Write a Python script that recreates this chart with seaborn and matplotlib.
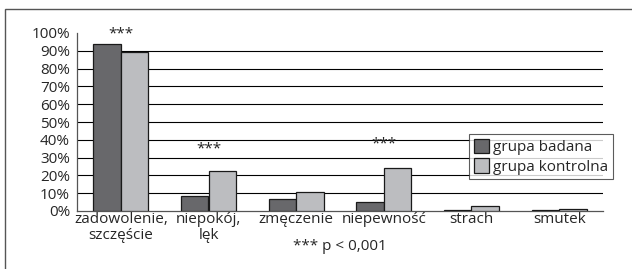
import pandas as pd
import numpy as np
import matplotlib
matplotlib.use("Agg")
import matplotlib.pyplot as plt
import seaborn as sns
from matplotlib.patches import Rectangle

sns.set_style("white")
plt.rcParams["font.family"] = ["Open Sans", "DejaVu Sans"]

categories = ["zadowolenie,\nszczęście", "niepokój,\nlęk", "zmęczenie",
              "niepewność", "strach", "smutek"]
badana     = [94.0, 8.5, 7.0, 5.0, 0.5, 0.5]
kontrolna  = [89.5, 22.5, 10.5, 24.0, 3.0, 1.0]
groups     = ["grupa badana", "grupa kontrolna"]
colors     = ["#68686b", "#bcbdc0"]
stars      = [("***", 0, 95.0), ("***", 1, 30.5), ("***", 3, 33.5)]

df = pd.DataFrame({
    "cat": categories * 2,
    "val": badana + kontrolna,
    "grp": [groups[0]] * 6 + [groups[1]] * 6,
})

FS = 11

fig = plt.figure(figsize=(6.32, 2.69), dpi=100)
ax = fig.add_axes([77 / 632, 1 - 211 / 269, 526 / 632, 178 / 269])

sns.barplot(data=df, x="cat", y="val", hue="grp", palette=colors,
            width=0.63, gap=0, edgecolor="#1a1a1a", linewidth=0.9,
            saturation=1, ax=ax, zorder=3)

ax.set_ylim(0, 100)
ax.set_xlim(-0.5, 5.5)
ax.set_yticks(np.arange(0, 101, 10))
ax.set_yticklabels([f"{v}%" for v in range(0, 101, 10)], fontsize=FS)
for v in range(10, 100, 10):
    ax.axhline(v, color="black", linewidth=0.8, zorder=1)

ax.set_xticks(range(6))
ax.set_xticklabels(categories, fontsize=FS, linespacing=1.05)
ax.tick_params(axis="x", length=0, pad=1)
ax.set_xticks(np.arange(-0.5, 6, 1), minor=True)
ax.tick_params(axis="x", which="minor", length=3, color="#444444", direction="out")
ax.tick_params(axis="y", length=3, color="#444444", direction="out", pad=2)
ax.set_xlabel("")
ax.set_ylabel("")

for s in ["top", "right"]:
    ax.spines[s].set_visible(False)
for s in ["left", "bottom"]:
    ax.spines[s].set_color("#555555")
    ax.spines[s].set_linewidth(0.9)

for txt, i, y in stars:
    ax.text(i, y, txt, ha="center", va="bottom", fontsize=FS, color="#222222",
            zorder=4)

handles, labels = ax.get_legend_handles_labels()
ax.get_legend().remove()
leg = fig.legend(handles, labels, loc="upper left",
                 bbox_to_anchor=(469 / 632, 1 - 134 / 269), fontsize=FS,
                 frameon=True, fancybox=False, edgecolor="#333333",
                 borderpad=0.3, handlelength=1.0, handleheight=1.1,
                 handletextpad=0.3, labelspacing=0.2, borderaxespad=0)
leg.get_frame().set_linewidth(0.8)

fig.text(340 / 632, 1 - 247 / 269, "*** p < 0,001", ha="center",
         va="center", fontsize=FS)

fig.patches.append(Rectangle((5 / 632, -0.2), 1.2, 1 - 9 / 269 + 0.2,
                             transform=fig.transFigure, fill=False,
                             edgecolor="#555555", linewidth=1.0))

fig.savefig("out.png", dpi=100)
